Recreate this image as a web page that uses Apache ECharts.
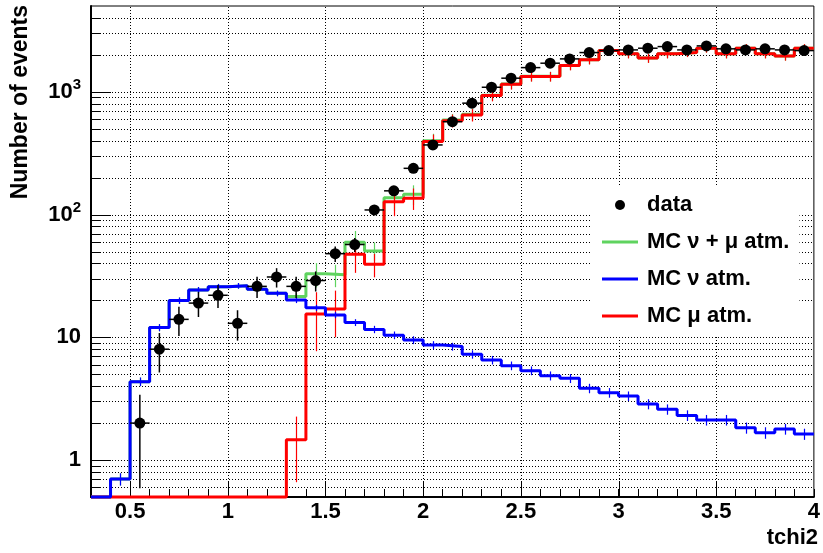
<!DOCTYPE html>
<html>
<head>
<meta charset="utf-8">
<title>tchi2</title>
<script src="https://cdn.jsdelivr.net/npm/echarts@6/dist/echarts.min.js"></script>
<style>
    html, body { margin: 0; padding: 0; background: #fff; }
    #chart { width: 823px; height: 553px; }
</style>
</head>
<body>
<div id="chart"></div>
<script>
    // bins of 0.1 in tchi2, low edges
    var binLow = [0.3, 0.4, 0.5, 0.6, 0.7, 0.8, 0.9, 1.0, 1.1, 1.2, 1.3, 1.4, 1.5, 1.6, 1.7, 1.8, 1.9,
                  2.0, 2.1, 2.2, 2.3, 2.4, 2.5, 2.6, 2.7, 2.8, 2.9, 3.0, 3.1, 3.2, 3.3, 3.4, 3.5, 3.6, 3.7, 3.8, 3.9];
    var binWidth = 0.1;
    var X_MIN = 0.3, X_MAX = 4.0;
    var Y_MIN = 0.5, Y_MAX = 5000;

    // data (counts + poisson errors)
    var dataCounts = [0, 0, 2, 8, 14, 19, 22, 13, 26, 31, 26, 29, 48, 57, 109, 156, 238, 369, 571, 808, 1089,
                      1291, 1574, 1710, 1854, 2088, 2167, 2194, 2265, 2335, 2194, 2366, 2239, 2194, 2239, 2194, 2167];
    var dataErr = [0, 0, 1.41, 2.83, 3.74, 4.36, 4.69, 3.61, 5.10, 5.57, 5.10, 5.39, 6.93, 7.55, 10.4, 12.5, 15.4,
                   19.2, 23.9, 28.4, 33.0, 35.9, 39.7, 41.4, 43.1, 45.7, 46.6, 46.8, 47.6, 48.3, 46.8, 48.6, 47.3,
                   46.8, 47.3, 46.8, 46.6];

    // MC nu + mu atm.
    var mcNuMu = [0, 0.70, 4.35, 12.0, 19.9, 24.3, 25.8, 26.3, 24.6, 22.8, 21.5, 32.9, 32.3, 59.5, 50.5, 137, 146,
                  400, 590, 655, 938, 1159, 1336, 1336, 1641, 1825, 2171, 2040, 1884, 2040, 2090, 2267, 2039,
                  2267, 2039, 1956, 2267];
    var mcNuMuErr = [0, 0.08, 0.35, 0.8, 1.2, 1.4, 1.4, 1.4, 1.3, 1.2, 1.3, 7.4, 6.7, 14, 8.7, 30, 27, 55, 70, 75,
                     95, 110, 120, 120, 140, 150, 170, 165, 160, 165, 170, 180, 165, 180, 165, 160, 180];

    // MC nu atm.
    var mcNu = [0, 0.70, 4.35, 12.0, 19.9, 24.3, 25.8, 26.3, 24.6, 22.8, 20.1, 17.4, 15.2, 13.2, 11.6, 10.4, 9.5,
                8.65, 8.4, 7.27, 6.53, 5.87, 5.35, 4.86, 4.63, 3.84, 3.54, 3.32, 2.86, 2.59, 2.31, 2.12, 2.12,
                1.83, 1.67, 1.79, 1.63];
    var mcNuErr = [0, 0.08, 0.35, 0.8, 1.2, 1.4, 1.4, 1.4, 1.3, 1.2, 1.1, 1.0, 0.9, 0.85, 0.8, 0.75, 0.7, 0.65,
                   0.62, 0.57, 0.52, 0.48, 0.44, 0.41, 0.39, 0.34, 0.32, 0.30, 0.27, 0.25, 0.23, 0.21, 0.21,
                   0.19, 0.18, 0.18, 0.17];

    // MC mu atm.
    var mcMu = [0, 0, 0, 0, 0, 0, 0, 0, 0, 0, 1.46, 15.5, 17.0, 47.5, 39.3, 127, 136, 393, 582, 648, 931, 1153,
                1331, 1331, 1636, 1821, 2167, 2037, 1881, 2037, 2088, 2265, 2037, 2265, 2037, 1954, 2265];
    var mcMuErr = [0, 0, 0, 0, 0, 0, 0, 0, 0, 0, 0.8, 7.8, 7.0, 14, 8.5, 30, 27, 55, 70, 75, 95, 110, 120, 120,
                   140, 150, 170, 165, 160, 165, 170, 180, 165, 180, 165, 160, 180];

    // grid / tick positions
    var xGridTicks = [0.5, 1, 1.5, 2, 2.5, 3, 3.5];
    var yGridTicks = [0.6, 0.7, 0.8, 0.9, 1, 2, 3, 4, 5, 6, 7, 8, 9, 10, 20, 30, 40, 50, 60, 70, 80, 90,
                      100, 200, 300, 400, 500, 600, 700, 800, 900, 1000, 2000, 3000, 4000];

    var FONT = 'Liberation Sans, Arial, Helvetica, sans-serif';
    var LINE_ICON = 'path://M0,0L36,0L36,3L0,3Z';

    function clampY(v) {
        return v > Y_MIN ? v : Y_MIN;
    }

    // histogram as step line through bin edges
    function stepData(values) {
        var pts = binLow.map(function (x, i) { return [x, clampY(values[i])]; });
        pts.push([X_MAX, clampY(values[values.length - 1])]);
        return pts;
    }

    function errData(values, errs) {
        var out = [];
        binLow.forEach(function (x, i) {
            if (values[i] > 0) out.push([x + binWidth / 2, values[i], errs[i], x, x + binWidth]);
        });
        return out;
    }

    function isDecade(v) {
        var l = Math.log10(v);
        return Math.abs(l - Math.round(l)) < 1e-6;
    }

    function mcErrSeries(name, values, errs, color, z) {
        return {
            name: name, type: 'custom', z: z, silent: true,
            data: errData(values, errs),
            renderItem: function (params, api) {
                var xc = api.value(0), v = api.value(1), e = api.value(2);
                var p1 = api.coord([xc, Math.max(v - e, Y_MIN)]);
                var p2 = api.coord([xc, Math.min(v + e, Y_MAX)]);
                var x = Math.round(p1[0]) + 0.5;
                return {
                    type: 'line',
                    shape: {x1: x, y1: p1[1], x2: x, y2: p2[1]},
                    style: {stroke: color, lineWidth: 1.2}
                };
            }
        };
    }

    function histSeries(name, values, color, z) {
        return {
            name: name, type: 'line', step: 'end', z: z,
            data: stepData(values),
            symbol: 'none', showSymbol: false, clip: false,
            lineStyle: {color: color, width: 3},
            itemStyle: {color: color}
        };
    }

    var chart = echarts.init(document.getElementById('chart'));

    var option = {
        animation: false,
        backgroundColor: '#fff',
        grid: {
            left: 91, right: 5, top: 6, bottom: 56,
            show: true, borderColor: '#000', borderWidth: 1
        },
        legend: {
            data: [
                {name: 'data', icon: 'circle'},
                {name: 'MC ν + μ atm.', icon: LINE_ICON},
                {name: 'MC ν atm.', icon: LINE_ICON},
                {name: 'MC μ atm.', icon: LINE_ICON}
            ],
            orient: 'vertical',
            left: 592, top: 186,
            itemWidth: 36, itemHeight: 10, itemGap: 15,
            backgroundColor: '#fff',
            padding: [8, 10, 8, 10],
            selectedMode: false,
            textStyle: {
                fontFamily: FONT, fontWeight: 'bold', fontSize: 22, color: '#000',
                lineHeight: 22, padding: [0, 0, 0, 4]
            }
        },
        xAxis: {
            type: 'value', min: X_MIN, max: X_MAX, interval: 0.1,
            axisLine: {lineStyle: {color: '#000', width: 2}},
            axisTick: {inside: true, length: 8, lineStyle: {color: '#000', width: 1}},
            splitLine: {show: false},
            axisLabel: {
                margin: 4, color: '#000', fontFamily: FONT, fontWeight: 'bold', fontSize: 22,
                showMinLabel: true, showMaxLabel: true,
                formatter: function (v) {
                    var r = Math.round(v * 10);
                    if (r % 5 !== 0) return '';
                    return String(Number((r / 10).toFixed(1)));
                }
            }
        },
        yAxis: {
            type: 'log', logBase: 10, min: Y_MIN, max: Y_MAX,
            axisLine: {show: true, lineStyle: {color: '#000', width: 2}},
            axisTick: {show: false},
            splitLine: {show: false},
            axisLabel: {
                margin: 10, color: '#000', fontFamily: FONT, fontWeight: 'bold', fontSize: 22,
                formatter: function (v) {
                    if (!isDecade(v)) return '';
                    var e = Math.round(Math.log10(v));
                    if (e === 0) return '{b|1}';
                    if (e === 1) return '{b|10}';
                    return '{b|10}{sup|' + e + '}';
                },
                rich: {
                    b: {fontFamily: FONT, fontWeight: 'bold', fontSize: 22, color: '#000', lineHeight: 28},
                    sup: {fontFamily: FONT, fontWeight: 'bold', fontSize: 15, color: '#000',
                          lineHeight: 15, verticalAlign: 'top'}
                }
            }
        },
        graphic: [
            {
                type: 'text', x: 21, y: 5, rotation: Math.PI / 2,
                style: {
                    text: 'Number of events', fill: '#000', align: 'right', verticalAlign: 'middle',
                    font: 'bold 23px ' + FONT
                }
            },
            {
                type: 'text', x: 818, y: 538,
                style: {
                    text: 'tchi2', fill: '#000', align: 'right', verticalAlign: 'middle',
                    font: 'bold 22px ' + FONT
                }
            }
        ],
        series: [
            // horizontal dotted grid + left ticks
            {
                name: 'ygrid', type: 'custom', z: 1, silent: true,
                data: yGridTicks.map(function (v) { return [X_MIN, v]; }),
                renderItem: function (params, api) {
                    var v = api.value(1);
                    var a = api.coord([X_MIN, v]), b = api.coord([X_MAX, v]);
                    var y = Math.round(a[1]) + 0.5;
                    var len = isDecade(v) ? 20 : 10;
                    return {
                        type: 'group', children: [
                            {type: 'line', shape: {x1: a[0], y1: y, x2: b[0], y2: y},
                             style: {stroke: '#000', lineWidth: 1, lineDash: [1, 2]}},
                            {type: 'line', shape: {x1: a[0], y1: y, x2: a[0] + len, y2: y},
                             style: {stroke: '#000', lineWidth: 1}}
                        ]
                    };
                }
            },
            // vertical dotted grid + long bottom ticks
            {
                name: 'xgrid', type: 'custom', z: 1, silent: true,
                data: xGridTicks.map(function (x) { return [x, Y_MIN]; }),
                renderItem: function (params, api) {
                    var x0 = api.value(0);
                    var a = api.coord([x0, Y_MIN]), b = api.coord([x0, Y_MAX]);
                    var x = Math.round(a[0]) + 0.5;
                    return {
                        type: 'group', children: [
                            {type: 'line', shape: {x1: x, y1: a[1], x2: x, y2: b[1]},
                             style: {stroke: '#000', lineWidth: 1, lineDash: [1, 2]}},
                            {type: 'line', shape: {x1: x, y1: a[1], x2: x, y2: a[1] - 15},
                             style: {stroke: '#000', lineWidth: 1}}
                        ]
                    };
                }
            },
            histSeries('MC ν + μ atm.', mcNuMu, '#5fd35f', 2),
            mcErrSeries('errNuMu', mcNuMu, mcNuMuErr, '#5fd35f', 2),
            histSeries('MC μ atm.', mcMu, '#ff0000', 3),
            mcErrSeries('errMu', mcMu, mcMuErr, '#ff0000', 3),
            histSeries('MC ν atm.', mcNu, '#0000ff', 4),
            mcErrSeries('errNu', mcNu, mcNuErr, '#0000ff', 4),
            // data error bars
            {
                name: 'dataErr', type: 'custom', z: 9, silent: true,
                data: errData(dataCounts, dataErr),
                renderItem: function (params, api) {
                    var xc = api.value(0), v = api.value(1), e = api.value(2);
                    var xl = api.value(3), xh = api.value(4);
                    var pl = api.coord([xl, v]), ph = api.coord([xh, v]);
                    var pb = api.coord([xc, Math.max(v - e, Y_MIN)]);
                    var pt = api.coord([xc, Math.min(v + e, Y_MAX)]);
                    return {
                        type: 'group', children: [
                            {type: 'line', shape: {x1: pl[0], y1: pl[1], x2: ph[0], y2: ph[1]},
                             style: {stroke: '#000', lineWidth: 1.5}},
                            {type: 'line', shape: {x1: pb[0], y1: pb[1], x2: pt[0], y2: pt[1]},
                             style: {stroke: '#000', lineWidth: 1.5}}
                        ]
                    };
                }
            },
            {
                name: 'data', type: 'scatter', z: 10,
                data: errData(dataCounts, dataErr).map(function (d) { return [d[0], d[1]]; }),
                symbol: 'circle', symbolSize: 11,
                itemStyle: {color: '#000', opacity: 1}
            }
        ]
    };

    chart.setOption(option);
</script>
</body>
</html>
